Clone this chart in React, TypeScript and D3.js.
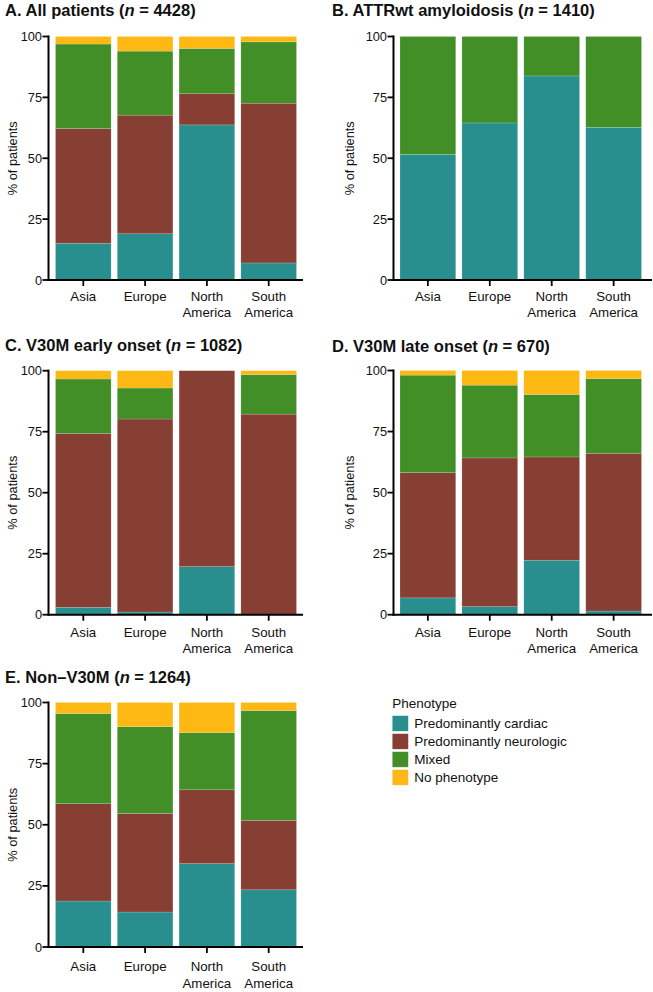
import React from "react";
import * as d3 from "d3";

const regions = ["Asia", "Europe", "North America", "South America"];
const phenotypes = ["Predominantly cardiac", "Predominantly neurologic", "Mixed", "No phenotype"];
const phenotypeColors = ["#288f8e", "#883f33", "#428f28", "#fdb813"];
const yTicks = [0, 25, 50, 75, 100];

// Panel A: All patients
const allCardiac = [15.1, 19.0, 63.7, 7.0];
const allNeuro = [47.1, 48.7, 12.8, 65.6];
const allMixed = [34.7, 26.3, 18.6, 25.2];
const allNone = [3.1, 6.0, 4.9, 2.2];

// Panel B: ATTRwt amyloidosis
const wtCardiac = [51.6, 64.5, 83.8, 62.7];
const wtNeuro = [0, 0, 0, 0];
const wtMixed = [48.4, 35.5, 16.2, 37.3];
const wtNone = [0, 0, 0, 0];

// Panel C: V30M early onset
const earlyCardiac = [3.0, 1.1, 19.7, 0];
const earlyNeuro = [71.3, 79.1, 80.3, 82.2];
const earlyMixed = [22.3, 12.7, 0, 16.2];
const earlyNone = [3.4, 7.1, 0, 1.6];

// Panel D: V30M late onset
const lateCardiac = [6.9, 3.3, 22.3, 1.5];
const lateNeuro = [51.3, 60.9, 42.3, 64.6];
const lateMixed = [39.9, 29.8, 25.6, 30.6];
const lateNone = [1.9, 6.0, 9.8, 3.3];

// Panel E: Non-V30M
const nonCardiac = [18.8, 14.3, 34.1, 23.4];
const nonNeuro = [39.8, 40.3, 30.2, 28.4];
const nonMixed = [36.9, 35.5, 23.4, 44.9];
const nonNone = [4.5, 9.9, 12.3, 3.3];

const panelLetters = ["A.", "B.", "C.", "D.", "E."];
const panelNames = ["All patients", "ATTRwt amyloidosis", "V30M early onset", "V30M late onset", "Non\u2013V30M"];
const panelNs = ["4428", "1410", "1082", "670", "1264"];
const panelSeries = [
  [allCardiac, allNeuro, allMixed, allNone],
  [wtCardiac, wtNeuro, wtMixed, wtNone],
  [earlyCardiac, earlyNeuro, earlyMixed, earlyNone],
  [lateCardiac, lateNeuro, lateMixed, lateNone],
  [nonCardiac, nonNeuro, nonMixed, nonNone],
];

const FONT = "'Liberation Sans', Arial, Helvetica, sans-serif";

type Layout = {
  axisX: number; barStart: number; barEnd: number; axisEnd: number;
  top: number; bottom: number; titleX: number; titleY: number; yLabelX: number; xLabelOff: number;
};

const LEFT = { axisX: 48.5, barStart: 55.5, barEnd: 296.5, axisEnd: 303, titleX: 5, yLabelX: 12 };
const RIGHT = { axisX: 393.5, barStart: 400, barEnd: 641.5, axisEnd: 652, titleX: 332, yLabelX: 349 };

const layouts: Layout[] = [
  { ...LEFT, top: 36.5, bottom: 280, titleY: 15.5, xLabelOff: 20.7 },
  { ...RIGHT, top: 36.5, bottom: 280, titleY: 16, xLabelOff: 20.7 },
  { ...LEFT, top: 370.7, bottom: 614.7, titleY: 351, xLabelOff: 22 },
  { ...RIGHT, top: 370.5, bottom: 614.7, titleY: 352, xLabelOff: 22 },
  { ...LEFT, top: 702.5, bottom: 947, titleY: 682.5, xLabelOff: 24 },
];

function Panel({ idx }: { idx: number }) {
  const L = layouts[idx];
  const series = panelSeries[idx];
  const rows = regions.map((r, i) => {
    const o: Record<string, any> = { region: r };
    phenotypes.forEach((p, j) => (o[p] = series[j][i]));
    return o;
  });
  const stacked = d3.stack<any>().keys(phenotypes)(rows);
  const step = (L.barEnd - L.barStart) / 3.9;
  const x = d3
    .scaleBand<string>()
    .domain(regions)
    .range([L.barStart - step * 0.05, L.barStart - step * 0.05 + step * 4])
    .paddingInner(0.1)
    .paddingOuter(0.05);
  const y = d3.scaleLinear().domain([0, 100]).range([L.bottom, L.top]);

  return (
    <g>
      <text x={L.titleX} y={L.titleY} fontSize={16.5} fontWeight="bold" fill="#111">
        {panelLetters[idx]} {panelNames[idx]} (<tspan fontStyle="italic">n</tspan> = {panelNs[idx]})
      </text>
      {stacked.map((s, si) =>
        s.map((d, di) => {
          const h = y(d[0]) - y(d[1]);
          if (h <= 0) return null;
          return (
            <rect
              key={`${si}-${di}`}
              x={x(regions[di])}
              y={y(d[1])}
              width={x.bandwidth()}
              height={h}
              fill={phenotypeColors[si]}
              stroke="rgba(255,255,255,0.25)"
              strokeWidth={0.6}
            />
          );
        })
      )}
      {/* y axis */}
      <line x1={L.axisX} x2={L.axisX} y1={y(100) - 1} y2={L.bottom + 1} stroke="#000" strokeWidth={2} />
      {yTicks.map((t) => (
        <g key={t}>
          <line x1={L.axisX - 6} x2={L.axisX} y1={y(t)} y2={y(t)} stroke="#000" strokeWidth={1.8} />
          <text x={L.axisX - 6.5} y={y(t)} dy="0.36em" textAnchor="end" fontSize={12.8} fill="#111">
            {t}
          </text>
        </g>
      ))}
      <text
        transform={`translate(${L.yLabelX},${(L.top + L.bottom) / 2}) rotate(-90)`}
        textAnchor="middle"
        dominantBaseline="central"
        fontSize={12.8}
        fill="#111"
      >
        % of patients
      </text>
      {/* x axis */}
      <line x1={L.axisX - 1} x2={L.axisEnd} y1={L.bottom} y2={L.bottom} stroke="#000" strokeWidth={2} />
      {regions.map((r) => {
        const cx = (x(r) as number) + x.bandwidth() / 2;
        const parts = r.split(" ");
        return (
          <g key={r}>
            <line x1={cx} x2={cx} y1={L.bottom} y2={L.bottom + 6} stroke="#000" strokeWidth={1.8} />
            {parts.map((p, k) => (
              <text key={k} x={cx} y={L.bottom + L.xLabelOff + k * 16.5} textAnchor="middle" fontSize={13.3} fill="#111">
                {p}
              </text>
            ))}
          </g>
        );
      })}
    </g>
  );
}

function Legend() {
  const lx = 392.3;
  const ty = 708;
  return (
    <g>
      <text x={lx} y={ty} fontSize={13.5} fill="#111">
        Phenotype
      </text>
      {phenotypes.map((p, i) => {
        const sy = 715.7 + i * 18;
        return (
          <g key={p}>
            <rect x={lx} y={sy} width={16} height={15.5} fill={phenotypeColors[i]} stroke="rgba(255,255,255,0.35)" strokeWidth={0.6} />
            <text x={414.3} y={sy + 7.75} dy="0.36em" fontSize={13.5} fill="#111">
              {p}
            </text>
          </g>
        );
      })}
    </g>
  );
}

export default function App() {
  return (
    <svg
      width={653}
      height={992}
      viewBox="0 0 653 992"
      style={{ position: "absolute", left: 0, top: 0, background: "#fff", fontFamily: FONT }}
    >
      <rect width={653} height={992} fill="#fff" />
      {[0, 1, 2, 3, 4].map((i) => (
        <Panel key={i} idx={i} />
      ))}
      <Legend />
    </svg>
  );
}
